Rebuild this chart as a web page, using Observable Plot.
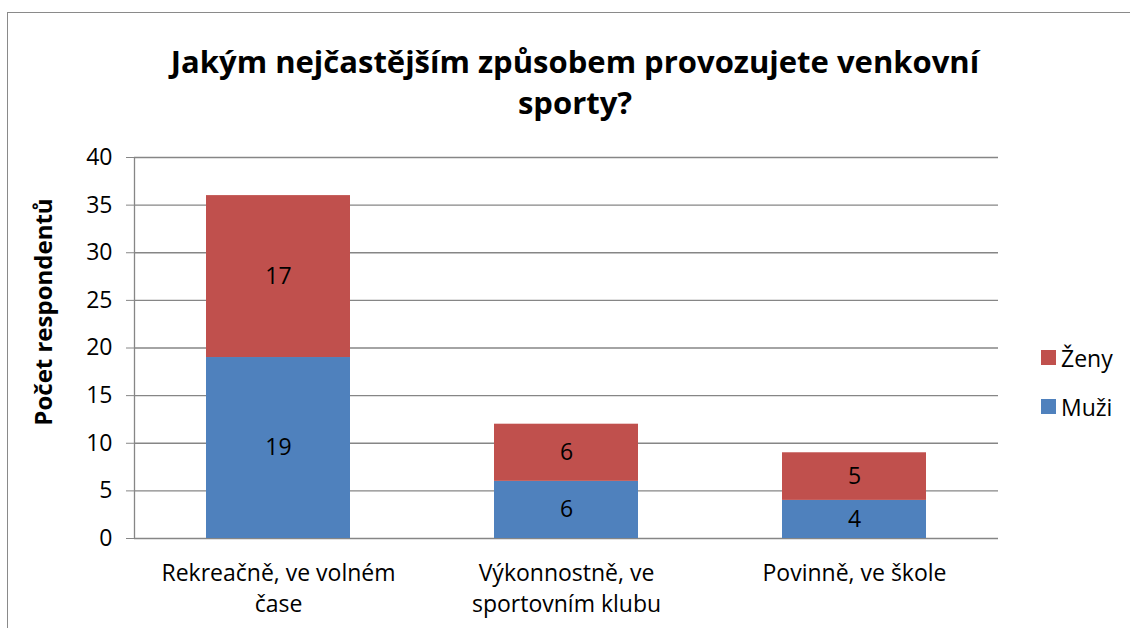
<!DOCTYPE html>
<html>
<head>
<meta charset="utf-8">
<script src="https://cdn.jsdelivr.net/npm/d3@7"></script>
<script src="https://cdn.jsdelivr.net/npm/@observablehq/plot@0.6"></script>
<style>
  html, body { margin: 0; padding: 0; background: #fff; }
  #wrap { position: relative; width: 1130px; height: 628px; overflow: hidden; font-family: "Open Sans", sans-serif; }
  #frameLeft { position: absolute; left: 7px; top: 12px; width: 1px; height: 616px; background: #8a8a8a; z-index: 5; }
  #frameTop { position: absolute; left: 7px; top: 12px; width: 1123px; height: 1px; background: #8a8a8a; z-index: 5; }
  #title { position: absolute; left: 0; top: 41px; width: 1150px; text-align: center; font-weight: bold; font-size: 31px; line-height: 41px; color: #000; z-index: 2; }
  #chart { position: absolute; left: 0; top: 140px; z-index: 1; }
  #legend { position: absolute; left: 1041px; top: 333px; font-size: 23px; color: #000; z-index: 2; }
  .li { display: flex; align-items: center; height: 49px; }
  .sw { width: 15px; height: 15px; margin-right: 5px; }
</style>
</head>
<body>
<div id="wrap">
  <div id="frameLeft"></div>
  <div id="frameTop"></div>
  <div id="title">Jakým nejčastějším způsobem provozujete venkovní<br>sporty?</div>
  <div id="chart"></div>
  <div id="legend"></div>
</div>
<script>
const categories = ["Rekreačně, ve volném čase", "Výkonnostně, ve sportovním klubu", "Povinně, ve škole"];
const categoryLabels = ["Rekreačně, ve volném\nčase", "Výkonnostně, ve\nsportovním klubu", "Povinně, ve škole"];
const series = ["Muži", "Ženy"];
const muzi = [19, 6, 4];
const zeny = [17, 6, 5];
const colors = ["#4F81BD", "#C0504D"];
const yTicks = [0, 5, 10, 15, 20, 25, 30, 35, 40];

const data = [];
categories.forEach((c, i) => {
  data.push({category: c, series: "Muži", value: muzi[i]});
  data.push({category: c, series: "Ženy", value: zeny[i]});
});

const W = 1130, H = 488;
const mL = 134, mR = 132, mT = 17, mB = 90;
const step = (W - mL - mR) / categories.length;
const grid = "#868686";

const chart = Plot.plot({
  width: W,
  height: H,
  marginLeft: mL,
  marginRight: mR,
  marginTop: mT,
  marginBottom: mB,
  style: {fontFamily: "'Open Sans', sans-serif", background: "transparent", color: "#000"},
  x: {domain: categories, paddingInner: 0.5, paddingOuter: 0.25},
  y: {domain: [0, 40]},
  color: {domain: series, range: colors},
  marks: [
    Plot.ruleY(yTicks, {stroke: grid, strokeWidth: 1.3, strokeOpacity: 1}),
    Plot.ruleX([categories[0]], {stroke: grid, strokeWidth: 1.3, dx: -step / 2}),
    Plot.ruleX(categories, {stroke: grid, strokeWidth: 1.3, dx: -step / 2, insetTop: 381, dy: 7}),
    Plot.ruleX([categories[categories.length - 1]], {stroke: grid, strokeWidth: 1.3, dx: step / 2, insetTop: 381, dy: 7}),
    Plot.barY(data, {x: "category", y: "value", fill: "series", order: series}),
    Plot.text(data, Plot.stackY({x: "category", y: "value", z: "series", order: series, text: d => String(d.value), fontSize: 23, fill: "#000"})),
    Plot.axisY({ticks: yTicks, tickSize: 8, tickPadding: 14, stroke: grid, fontSize: 23, label: "Počet respondentů", labelAnchor: "center", labelArrow: "none", labelOffset: 100}),
    Plot.axisX({tickSize: 0, tickPadding: 20, fontSize: 23, lineHeight: 1.35, tickFormat: (d) => categoryLabels[categories.indexOf(d)], label: null})
  ]
});

chart.querySelectorAll("g[aria-label='y-axis label'] text").forEach(t => {
  t.setAttribute("font-weight", "bold");
  t.setAttribute("font-size", "24");
  t.setAttribute("x", "36");
});
document.getElementById("chart").appendChild(chart);

const legend = document.getElementById("legend");
[...series].reverse().forEach((s) => {
  const row = document.createElement("div");
  row.className = "li";
  const sw = document.createElement("div");
  sw.className = "sw";
  sw.style.background = colors[series.indexOf(s)];
  const lab = document.createElement("span");
  lab.textContent = s;
  row.appendChild(sw);
  row.appendChild(lab);
  legend.appendChild(row);
});
</script>
</body>
</html>
